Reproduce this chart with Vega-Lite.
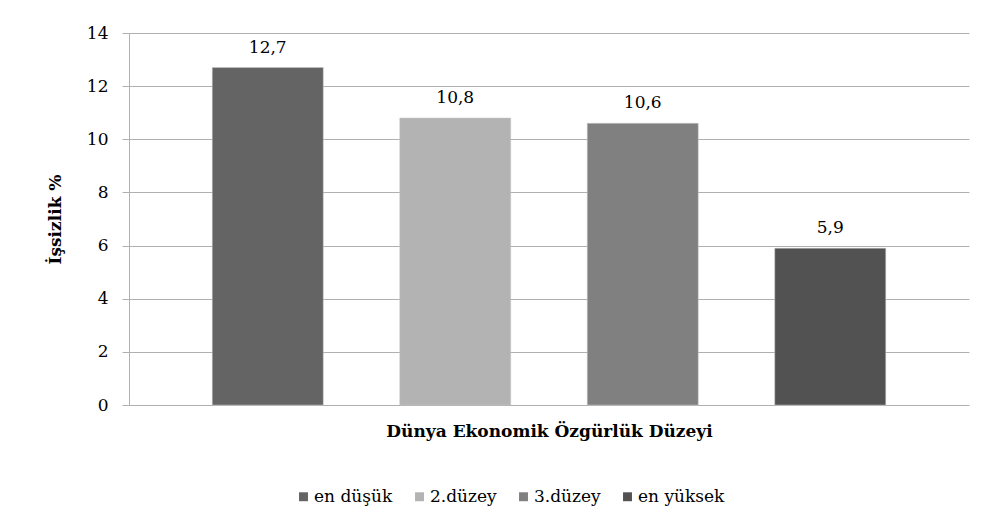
{
  "$schema": "https://vega.github.io/schema/vega-lite/v6.json",
  "width": 840,
  "height": 372,
  "autosize": "none",
  "padding": {"left": 129, "top": 33, "right": 20, "bottom": 124},
  "background": "white",
  "config": {
    "locale": {"number": {"decimal": ",", "thousands": ".", "grouping": [3], "currency": ["", " TL"]}},
    "font": "DejaVu Serif",
    "view": {"stroke": null},
    "axis": {"labelFont": "DejaVu Serif", "titleFont": "DejaVu Serif"},
    "legend": {"labelFont": "DejaVu Serif"},
    "text": {"font": "DejaVu Serif"}
  },
  "data": {
    "values": [
      {"duzey": "en düşük", "issizlik": 12.7},
      {"duzey": "2.düzey", "issizlik": 10.8},
      {"duzey": "3.düzey", "issizlik": 10.6},
      {"duzey": "en yüksek", "issizlik": 5.9}
    ]
  },
  "encoding": {
    "x": {
      "field": "duzey",
      "type": "nominal",
      "sort": ["en düşük", "2.düzey", "3.düzey", "en yüksek"],
      "scale": {"paddingInner": 0.408, "paddingOuter": 0.444},
      "axis": {
        "title": "Dünya Ekonomik Özgürlük Düzeyi",
        "titleFontWeight": "bold",
        "titleFontSize": 17,
        "titleColor": "#000000",
        "titlePadding": 18,
        "labels": false,
        "ticks": false,
        "domain": false
      }
    },
    "y": {
      "field": "issizlik",
      "type": "quantitative",
      "scale": {"domain": [0, 14]},
      "axis": {
        "title": "İşsizlik %",
        "titleFontWeight": "bold",
        "titleFontSize": 17,
        "titleColor": "#000000",
        "titlePadding": 22,
        "values": [0, 2, 4, 6, 8, 10, 12, 14],
        "labelFont": "DejaVu Serif",
        "labelFontSize": 17,
        "labelColor": "#000000",
        "labelPadding": 14,
        "tickSize": 7,
        "tickColor": "#b0b0b0",
        "domainColor": "#b0b0b0",
        "grid": true,
        "gridColor": "#b0b0b0",
        "gridOpacity": 1
      }
    }
  },
  "layer": [
    {
      "mark": {"type": "bar", "stroke": "#c8c8c8", "strokeWidth": 0.5},
      "encoding": {
        "color": {
          "field": "duzey",
          "type": "nominal",
          "sort": ["en düşük", "2.düzey", "3.düzey", "en yüksek"],
          "scale": {
            "domain": ["en düşük", "2.düzey", "3.düzey", "en yüksek"],
            "range": ["#646464", "#b3b3b3", "#808080", "#525252"]
          },
          "legend": {
            "title": null,
            "orient": "none",
            "direction": "horizontal",
            "legendX": 166,
            "legendY": 455,
            "symbolType": "square",
            "symbolSize": 80,
            "symbolStrokeWidth": 0,
            "labelFont": "DejaVu Serif",
            "labelFontSize": 17,
            "labelColor": "#000000",
            "labelOffset": 2,
            "columnPadding": 18
          }
        }
      }
    },
    {
      "mark": {"type": "text", "baseline": "bottom", "dy": -11, "fontSize": 17, "color": "#000000", "font": "DejaVu Serif"},
      "encoding": {
        "text": {"field": "issizlik", "type": "quantitative", "format": ".1f"}
      }
    }
  ]
}
